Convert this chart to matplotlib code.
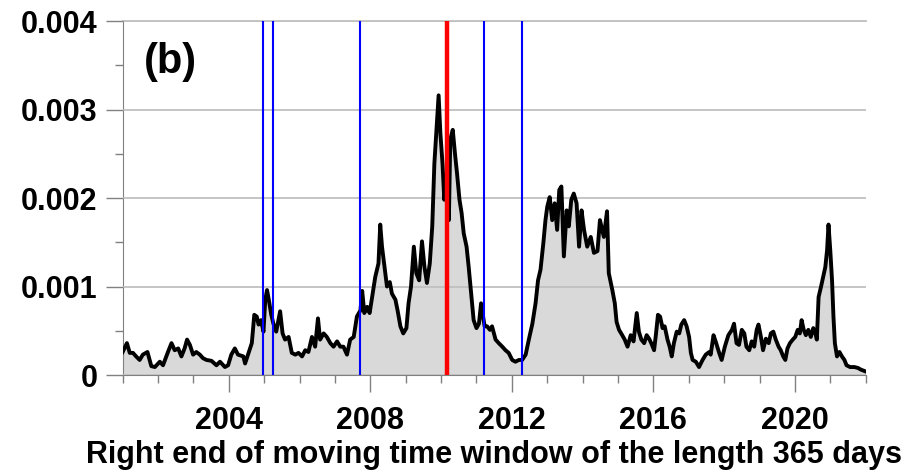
import numpy as np
import matplotlib
matplotlib.use('Agg')
import matplotlib.pyplot as plt
from matplotlib.ticker import MultipleLocator, FuncFormatter

plt.rcParams['font.family'] = ['Liberation Sans', 'DejaVu Sans']
plt.rcParams['font.weight'] = 'bold'

# right end of window (years) and value (in units of 1e-4)
years = [2001.00, 2001.12, 2001.20, 2001.29, 2001.38, 2001.48, 2001.57, 2001.70, 2001.81, 2001.91,
         2002.05, 2002.14, 2002.28, 2002.38, 2002.47, 2002.57, 2002.66, 2002.75, 2002.82, 2002.90,
         2002.99, 2003.08, 2003.18, 2003.27, 2003.37, 2003.51, 2003.65, 2003.75, 2003.89, 2003.98,
         2004.07, 2004.17, 2004.26, 2004.41, 2004.46, 2004.56, 2004.65, 2004.72, 2004.79, 2004.84,
         2004.91, 2004.98, 2005.03, 2005.08, 2005.13, 2005.20, 2005.26, 2005.34, 2005.45, 2005.52,
         2005.59, 2005.69, 2005.78, 2005.88, 2005.97, 2006.07, 2006.16, 2006.25, 2006.35, 2006.44,
         2006.52, 2006.58, 2006.68, 2006.77, 2006.87, 2006.96, 2007.06, 2007.15, 2007.24, 2007.34,
         2007.43, 2007.53, 2007.62, 2007.72, 2007.77, 2007.83, 2007.91, 2007.98, 2008.05, 2008.14,
         2008.23, 2008.28, 2008.33, 2008.40, 2008.47, 2008.55, 2008.61, 2008.71, 2008.77, 2008.85,
         2008.93, 2009.02, 2009.08, 2009.15, 2009.23, 2009.30, 2009.38, 2009.46, 2009.53, 2009.60,
         2009.68, 2009.75, 2009.81, 2009.87, 2009.93, 2009.98, 2010.04, 2010.09, 2010.15, 2010.22,
         2010.26, 2010.33, 2010.39, 2010.45, 2010.52, 2010.58, 2010.64, 2010.72, 2010.78, 2010.85,
         2010.92, 2011.00, 2011.07, 2011.13, 2011.16, 2011.23, 2011.30, 2011.38, 2011.44, 2011.54,
         2011.63, 2011.73, 2011.82, 2011.91, 2012.01, 2012.10, 2012.20, 2012.29, 2012.39, 2012.48,
         2012.58, 2012.67, 2012.74, 2012.81, 2012.89, 2012.95, 2013.00, 2013.07, 2013.14, 2013.21,
         2013.28, 2013.34, 2013.40, 2013.47, 2013.55, 2013.61, 2013.68, 2013.75, 2013.83, 2013.90,
         2013.97, 2014.04, 2014.13, 2014.23, 2014.32, 2014.42, 2014.49, 2014.60, 2014.69, 2014.74,
         2014.84, 2014.91, 2014.96, 2015.03, 2015.12, 2015.19, 2015.27, 2015.36, 2015.44, 2015.53,
         2015.59, 2015.66, 2015.74, 2015.81, 2015.88, 2015.94, 2016.02, 2016.07, 2016.13, 2016.19,
         2016.26, 2016.32, 2016.40, 2016.46, 2016.52, 2016.58, 2016.66, 2016.73, 2016.79, 2016.87,
         2016.94, 2017.01, 2017.06, 2017.11, 2017.20, 2017.29, 2017.39, 2017.48, 2017.58, 2017.62,
         2017.70, 2017.76, 2017.86, 2017.93, 2018.02, 2018.12, 2018.22, 2018.28, 2018.35, 2018.42,
         2018.50, 2018.57, 2018.63, 2018.71, 2018.78, 2018.85, 2018.92, 2018.97, 2019.04, 2019.10,
         2019.18, 2019.26, 2019.32, 2019.39, 2019.46, 2019.54, 2019.60, 2019.67, 2019.73, 2019.79,
         2019.86, 2019.94, 2020.01, 2020.08, 2020.14, 2020.19, 2020.25, 2020.31, 2020.38, 2020.45,
         2020.52, 2020.58, 2020.62, 2020.67, 2020.74, 2020.80, 2020.86, 2020.91, 2020.95, 2021.00,
         2021.05, 2021.09, 2021.13, 2021.19, 2021.26, 2021.33, 2021.40, 2021.46, 2021.56, 2021.68,
         2021.78, 2021.87, 2022.00]
vals_e4 = [2.6, 3.6, 2.5, 2.5, 2.1, 1.7, 2.3, 2.6, 1.0, 0.9,
           1.5, 1.1, 2.6, 3.6, 2.8, 3.0, 2.1, 3.0, 4.0, 3.4,
           2.3, 2.6, 2.3, 1.9, 1.7, 1.6, 1.1, 1.5, 0.9, 1.1,
           2.3, 3.0, 2.3, 2.1, 1.3, 2.5, 3.6, 6.8, 6.6, 5.7,
           6.2, 4.9, 8.5, 9.6, 8.5, 6.8, 5.8, 4.9, 7.2, 4.7,
           4.0, 4.3, 2.5, 2.3, 2.5, 2.1, 2.8, 2.6, 4.3, 3.2,
           6.4, 4.0, 4.7, 4.3, 3.6, 3.2, 3.8, 3.2, 3.2, 2.3,
           4.0, 4.3, 6.6, 7.3, 9.5, 7.0, 7.7, 7.0, 8.8, 11.1,
           12.6, 17.0, 14.5, 12.2, 10.0, 10.5, 9.2, 8.5, 7.3, 5.5,
           4.7, 5.3, 8.1, 10.0, 14.5, 11.5, 10.7, 15.1, 12.2, 10.4,
           12.6, 16.8, 23.9, 27.7, 31.6, 27.3, 23.9, 19.8, 22.0, 17.5,
           26.6, 27.7, 25.1, 22.8, 19.8, 18.3, 16.0, 14.5, 12.2, 9.2,
           6.2, 5.3, 5.8, 8.1, 7.3, 5.5, 5.5, 5.1, 5.5, 4.0,
           3.6, 3.2, 2.8, 2.5, 1.7, 1.5, 1.7, 1.7, 2.3, 4.0,
           5.8, 8.1, 10.7, 11.9, 14.9, 17.5, 19.0, 20.1, 17.5, 19.4,
           16.4, 20.9, 21.3, 13.4, 18.6, 16.8, 19.8, 20.5, 19.4, 14.5,
           18.6, 16.4, 14.5, 15.6, 13.8, 14.0, 17.5, 15.6, 18.5, 11.5,
           9.6, 8.1, 6.0, 5.1, 4.5, 4.0, 3.2, 4.5, 3.8, 7.0,
           4.9, 4.0, 3.6, 4.5, 4.1, 3.6, 2.8, 4.5, 6.8, 6.6,
           5.3, 5.5, 4.0, 3.2, 2.1, 3.6, 4.9, 4.7, 5.7, 6.2,
           5.5, 4.3, 2.5, 1.7, 1.5, 0.9, 1.7, 2.3, 2.6, 2.3,
           4.5, 3.8, 2.5, 1.7, 3.2, 4.5, 5.1, 5.8, 3.6, 3.4,
           5.1, 4.7, 3.2, 2.8, 3.8, 3.2, 5.1, 5.7, 4.3, 2.8,
           4.1, 3.6, 4.7, 4.9, 4.0, 3.2, 2.8, 2.1, 1.7, 3.0,
           3.6, 4.0, 4.3, 5.1, 4.7, 6.2, 5.1, 4.5, 5.1, 4.3,
           5.3, 4.7, 4.0, 8.8, 10.0, 11.1, 12.2, 14.1, 17.0, 14.1,
           10.7, 6.6, 3.6, 2.1, 2.6, 2.1, 1.7, 1.1, 0.9, 0.9,
           0.8, 0.6, 0.4]

blue_lines = [2004.98, 2005.24, 2007.70, 2011.20, 2012.29]
red_line = 2010.17

x = np.array(years)
y = np.array(vals_e4) * 1e-4

fig = plt.figure(figsize=(9.21, 4.72), dpi=100)
ax = fig.add_axes([0.1332, 0.2055, 0.8067, 0.75])

ax.fill_between(x, y, 0, color='#d9d9d9', lw=0, zorder=1)
ax.plot(x, y, color='black', lw=2.8, zorder=3)
for b in blue_lines:
    ax.axvline(b, color='#0000ff', lw=1.5, zorder=4)
ax.axvline(red_line, color='#ff0000', lw=3.2, zorder=5)

ax.set_xlim(2001, 2022)
ax.set_ylim(0, 0.004)
ax.xaxis.set_major_locator(MultipleLocator(4))
ax.xaxis.set_minor_locator(MultipleLocator(1))
ax.yaxis.set_major_locator(MultipleLocator(0.001))
ax.yaxis.set_minor_locator(MultipleLocator(0.0005))
ax.yaxis.set_major_formatter(FuncFormatter(lambda v, p: '0' if v == 0 else f'{v:.3f}'))

ax.grid(axis='y', which='major', color='#c0c0c0', lw=1.3, zorder=2)
ax.set_axisbelow(False)
ax.spines['right'].set_visible(False)
ax.spines['top'].set_color('#c0c0c0')
ax.spines['top'].set_linewidth(1.3)
ax.spines['left'].set_color('#808080')
ax.spines['bottom'].set_color('#808080')

ax.tick_params(which='major', length=12, width=1, color='#808080', labelsize=22)
ax.tick_params(axis='x', which='major', pad=10)
ax.tick_params(axis='y', which='major', pad=6)
ax.tick_params(which='minor', length=6, width=1, color='#808080')

ax.set_xlabel('Right end of moving time window of the length 365 days', fontsize=22,
              fontweight='bold', labelpad=3)
ax.text(2002.35, 0.00354, '(b)', fontsize=30, fontweight='bold', ha='center', va='center')

fig.savefig('out.png', dpi=100)
